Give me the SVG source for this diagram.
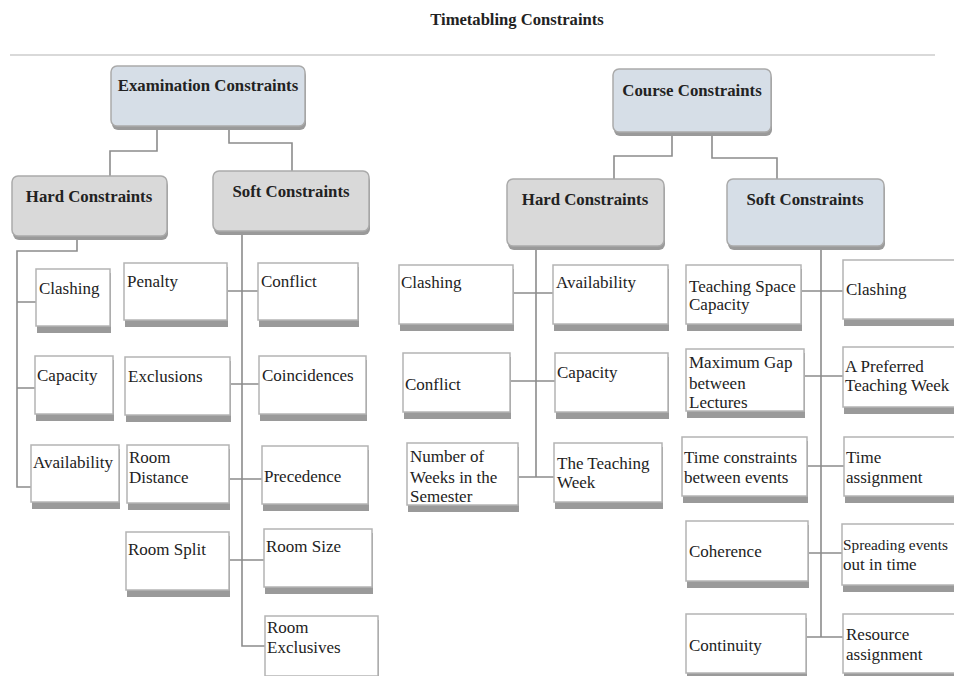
<svg xmlns="http://www.w3.org/2000/svg" width="954" height="676" viewBox="0 0 954 676">
<style>
text{font-family:"Liberation Serif","Times New Roman",serif;font-size:17px;fill:#222}
.t{font-weight:bold;font-size:16.6px;text-anchor:middle}
.h{font-weight:bold;font-size:16.8px;text-anchor:middle}
.s{font-size:15.3px}
.sh{fill:#9a9a9a}
.lf{fill:#fff;stroke:#b4b4b4;stroke-width:1.5}
.bl{fill:#d6dee7;stroke:#aaa;stroke-width:1.5}
.gr{fill:#d9d9d9;stroke:#aaa;stroke-width:1.5}
.c{fill:none;stroke:#8c8c8c;stroke-width:1.6}
</style>
<rect width="954" height="676" fill="#fff"/>
<text class="t" x="517" y="25">Timetabling Constraints</text>
<line x1="10" y1="55" x2="935" y2="55" stroke="#ccc" stroke-width="1.5"/>

<g id="connectors">
<path class="c" d="M157,128 V151 H110 V176"/>
<path class="c" d="M229,128 V143 H292 V171"/>
<path class="c" d="M77,238 V251 H17 V487 H31 M17,302 H36 M17,388 H35"/>
<path class="c" d="M242,233 V646 H265 M227,291 H258 M230,384 H259 M229,479 H262 M229,560 H264"/>
<path class="c" d="M672,135 V156 H614 V179"/>
<path class="c" d="M712,135 V158 H777 V179"/>
<path class="c" d="M536,249 V477 M513,293 H553 M510,381 H555 M518,477 H554"/>
<path class="c" d="M821,249 V637 M801,291 H843 M804,376 H843 M807,466 H844 M808,553 H842 M806,637 H843"/>
</g>

<g id="exam">
<rect class="sh" x="112" y="70" width="194" height="60" rx="6"/>
<rect class="bl" x="111" y="66" width="194" height="60" rx="6"/>
<text class="h" x="208" y="91">Examination Constraints</text>
</g>
<g id="exam-hard">
<rect class="sh" x="13" y="180" width="155" height="60" rx="6"/>
<rect class="gr" x="12" y="176" width="155" height="60" rx="6"/>
<text class="h" x="89" y="202">Hard Constraints</text>
</g>
<g id="exam-soft">
<rect class="sh" x="214" y="175" width="156" height="60" rx="6"/>
<rect class="gr" x="213" y="171" width="156" height="60" rx="6"/>
<text class="h" x="291" y="197">Soft Constraints</text>
</g>

<g id="course">
<rect class="sh" x="614" y="73" width="158" height="63" rx="6"/>
<rect class="bl" x="613" y="69" width="158" height="63" rx="6"/>
<text class="h" x="692" y="96">Course Constraints</text>
</g>
<g id="course-hard">
<rect class="sh" x="508" y="183" width="157" height="67" rx="6"/>
<rect class="gr" x="507" y="179" width="157" height="67" rx="6"/>
<text class="h" x="585" y="205">Hard Constraints</text>
</g>
<g id="course-soft">
<rect class="sh" x="728" y="183" width="157" height="67" rx="6"/>
<rect class="bl" x="727" y="179" width="157" height="67" rx="6"/>
<text class="h" x="805" y="205">Soft Constraints</text>
</g>

<!-- exam hard leaves -->
<g id="e-clashing"><rect class="sh" x="37" y="273" width="74" height="60"/><rect class="lf" x="36" y="269" width="74" height="57"/><text x="39" y="294">Clashing</text></g>
<g id="e-capacity"><rect class="sh" x="36" y="360" width="78" height="61"/><rect class="lf" x="35" y="356" width="78" height="58"/><text x="37" y="381">Capacity</text></g>
<g id="e-availability"><rect class="sh" x="32" y="449" width="88" height="60"/><rect class="lf" x="31" y="445" width="88" height="57"/><text x="33" y="468">Availability</text></g>

<!-- exam soft leaves -->
<g id="e-penalty"><rect class="sh" x="125" y="267" width="103" height="60"/><rect class="lf" x="124" y="263" width="103" height="57"/><text x="127" y="287">Penalty</text></g>
<g id="e-conflict"><rect class="sh" x="259" y="267" width="100" height="60"/><rect class="lf" x="258" y="263" width="100" height="57"/><text x="261" y="287">Conflict</text></g>
<g id="e-exclusions"><rect class="sh" x="126" y="361" width="105" height="61"/><rect class="lf" x="125" y="357" width="105" height="58"/><text x="128" y="382">Exclusions</text></g>
<g id="e-coincidences"><rect class="sh" x="260" y="360" width="107" height="61"/><rect class="lf" x="259" y="356" width="107" height="58"/><text x="262" y="381">Coincidences</text></g>
<g id="e-roomdistance"><rect class="sh" x="128" y="449" width="102" height="61"/><rect class="lf" x="127" y="445" width="102" height="58"/><text x="129" y="463">Room</text><text x="129" y="483">Distance</text></g>
<g id="e-precedence"><rect class="sh" x="263" y="450" width="106" height="61"/><rect class="lf" x="262" y="446" width="106" height="58"/><text x="264" y="482">Precedence</text></g>
<g id="e-roomsplit"><rect class="sh" x="127" y="536" width="103" height="61"/><rect class="lf" x="126" y="532" width="103" height="58"/><text x="128" y="555">Room Split</text></g>
<g id="e-roomsize"><rect class="sh" x="265" y="533" width="108" height="61"/><rect class="lf" x="264" y="529" width="108" height="58"/><text x="266" y="552">Room Size</text></g>
<g id="e-roomexclusives"><rect class="sh" x="266" y="620" width="113" height="62"/><rect class="lf" x="265" y="616" width="113" height="60"/><text x="267" y="633">Room</text><text x="267" y="653">Exclusives</text></g>

<!-- course hard leaves -->
<g id="c-clashing"><rect class="sh" x="400" y="269" width="114" height="62"/><rect class="lf" x="399" y="265" width="114" height="59"/><text x="401" y="288">Clashing</text></g>
<g id="c-availability"><rect class="sh" x="554" y="269" width="115" height="62"/><rect class="lf" x="553" y="265" width="115" height="59"/><text x="556" y="288">Availability</text></g>
<g id="c-conflict"><rect class="sh" x="404" y="357" width="107" height="62"/><rect class="lf" x="403" y="353" width="107" height="59"/><text x="405" y="390">Conflict</text></g>
<g id="c-capacity"><rect class="sh" x="556" y="357" width="113" height="62"/><rect class="lf" x="555" y="353" width="113" height="59"/><text x="557" y="378">Capacity</text></g>
<g id="c-weeks"><rect class="sh" x="408" y="447" width="111" height="65"/><rect class="lf" x="407" y="443" width="111" height="62"/><text x="410" y="462">Number of</text><text x="410" y="483">Weeks in the</text><text x="410" y="502">Semester</text></g>
<g id="c-teachingweek"><rect class="sh" x="555" y="447" width="108" height="62"/><rect class="lf" x="554" y="443" width="108" height="59"/><text x="557" y="469">The Teaching</text><text x="557" y="488">Week</text></g>

<!-- course soft leaves -->
<g id="c-tsc"><rect class="sh" x="687" y="269" width="115" height="62"/><rect class="lf" x="686" y="265" width="115" height="59"/><text x="689" y="292">Teaching Space</text><text x="689" y="310">Capacity</text></g>
<g id="c-clashing2"><rect class="sh" x="844" y="264" width="120" height="62"/><rect class="lf" x="843" y="260" width="120" height="59"/><text x="846" y="295">Clashing</text></g>
<g id="c-maxgap"><rect class="sh" x="687" y="353" width="118" height="65"/><rect class="lf" x="686" y="349" width="118" height="62"/><text x="689" y="368">Maximum Gap</text><text x="689" y="389">between</text><text x="689" y="408">Lectures</text></g>
<g id="c-preferred"><rect class="sh" x="844" y="351" width="120" height="63"/><rect class="lf" x="843" y="347" width="120" height="60"/><text x="845" y="372">A Preferred</text><text x="845" y="391">Teaching Week</text></g>
<g id="c-timeconstraints"><rect class="sh" x="683" y="441" width="125" height="62"/><rect class="lf" x="682" y="437" width="125" height="59"/><text x="684" y="463">Time constraints</text><text x="684" y="483">between events</text></g>
<g id="c-timeassignment"><rect class="sh" x="845" y="441" width="120" height="62"/><rect class="lf" x="844" y="437" width="120" height="59"/><text x="846" y="463">Time</text><text x="846" y="483">assignment</text></g>
<g id="c-coherence"><rect class="sh" x="687" y="525" width="122" height="63"/><rect class="lf" x="686" y="521" width="122" height="60"/><text x="689" y="557">Coherence</text></g>
<g id="c-spreading"><rect class="sh" x="843" y="528" width="120" height="64"/><rect class="lf" x="842" y="524" width="120" height="61"/><text class="s" x="843" y="550">Spreading events</text><text x="843" y="570">out in time</text></g>
<g id="c-continuity"><rect class="sh" x="687" y="618" width="120" height="61"/><rect class="lf" x="686" y="614" width="120" height="59"/><text x="689" y="651">Continuity</text></g>
<g id="c-resource"><rect class="sh" x="844" y="618" width="120" height="61"/><rect class="lf" x="843" y="614" width="120" height="59"/><text x="846" y="640">Resource</text><text x="846" y="660">assignment</text></g>
</svg>
